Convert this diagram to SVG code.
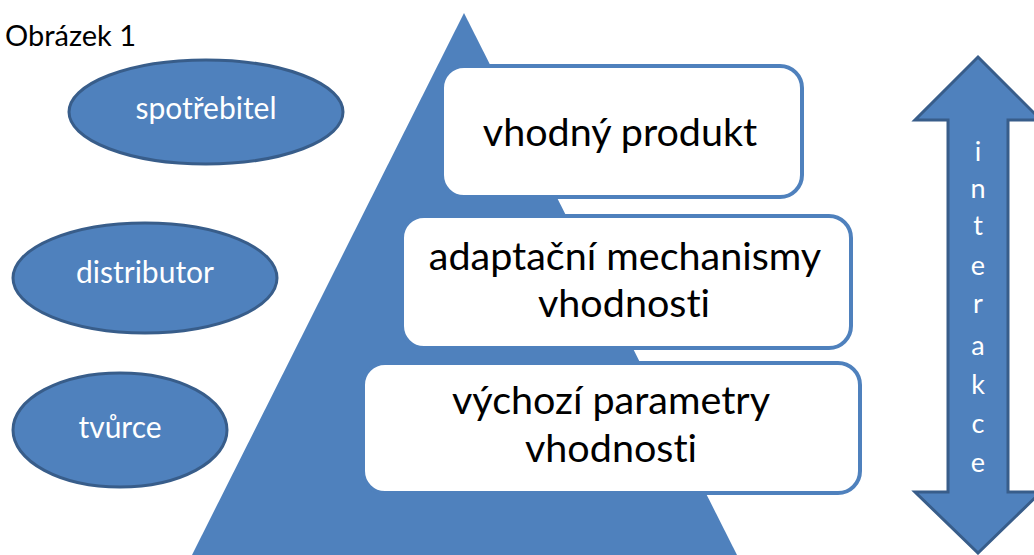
<svg xmlns="http://www.w3.org/2000/svg" width="1034" height="555" viewBox="0 0 1034 555">
<style>
text{font-family:Lato,"Liberation Sans",sans-serif;font-variant-ligatures:none;font-feature-settings:"liga" 0,"clig" 0}
.ell{fill:#4f81bd;stroke:#385d8a;stroke-width:3}
.box{fill:#ffffff;stroke:#4f81bd;stroke-width:4}
.wt{fill:#ffffff;font-size:30px;text-anchor:middle}
.bt{fill:#000000;font-size:39.5px;text-anchor:middle}
.lt{fill:#ffffff;font-size:27px;text-anchor:middle}
</style>
<rect width="1034" height="555" fill="#ffffff"/>
<text x="5" y="46" font-size="29" fill="#000">Obrázek 1</text>
<g id="pyramid"><polygon points="464,13 192,555 737,555" fill="#4f81bd"/></g>
<g id="spotrebitel"><ellipse class="ell" cx="206" cy="112" rx="137" ry="52"/><text class="wt" x="206" y="119">spotřebitel</text></g>
<g id="distributor"><ellipse class="ell" cx="145" cy="278" rx="132" ry="55"/><text class="wt" x="145" y="283">distributor</text></g>
<g id="tvurce"><ellipse class="ell" cx="120" cy="430" rx="107" ry="57"/><text class="wt" x="120" y="438">tvůrce</text></g>
<g id="box1"><rect class="box" x="442" y="66" width="360" height="131" rx="22"/><text class="bt" x="620" y="146">vhodný produkt</text></g>
<g id="box2"><rect class="box" x="402" y="216" width="449" height="132" rx="22"/><text class="bt" x="625" y="270">adaptační mechanismy</text><text class="bt" x="624" y="317">vhodnosti</text></g>
<g id="box3"><rect class="box" x="363" y="363" width="497" height="130" rx="22"/><text class="bt" x="611" y="414">výchozí parametry</text><text class="bt" x="611" y="462">vhodnosti</text></g>
<g id="interakce">
<polygon points="978,57 1041,120 1008,120 1008,492 1041,492 978,553 915,492 948,492 948,120 915,120" fill="#4f81bd" stroke="#385d8a" stroke-width="3" stroke-linejoin="miter"/>
<text class="lt" x="978" y="161">i</text>
<text class="lt" x="978" y="198">n</text>
<text class="lt" x="978" y="235">t</text>
<text class="lt" x="978" y="275">e</text>
<text class="lt" x="978" y="313">r</text>
<text class="lt" x="978" y="355">a</text>
<text class="lt" x="978" y="394">k</text>
<text class="lt" x="978" y="433">c</text>
<text class="lt" x="978" y="472">e</text>
</g>
<g id="connectors"/>
</svg>
